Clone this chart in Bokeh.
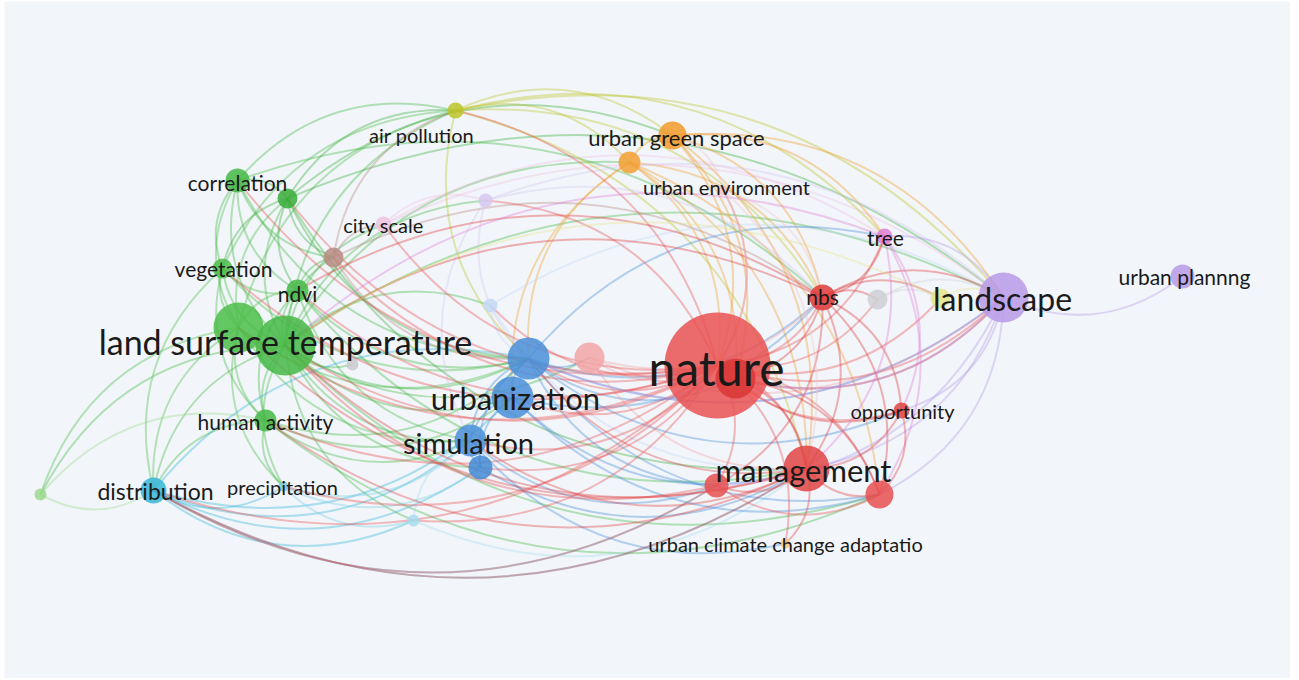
import numpy as np
from bokeh.plotting import figure
from bokeh.models import ColumnDataSource, Range1d
from bokeh.core.properties import value
from bokeh.embed import file_html
from bokeh.resources import INLINE

# ---- nodes (map coordinates as laid out in the network map) ----
node_id = ["lst", "lst2", "correlation", "g_small", "vegetation", "ndvi", "human_activity",
           "g_left", "brown", "city_scale", "gray1", "distribution", "precipitation", "cyan_small",
           "air_pollution", "urban_green_space", "urban_environment_o", "lavender", "light_blue",
           "urbanization", "urbanization2", "simulation", "simulation2", "salmon", "nature",
           "nature2", "nbs", "gray2", "yellow_pale", "landscape", "urban_plannng", "tree",
           "opportunity", "management", "red_small", "red_right", "ucca", "urban_environment"]
node_x = [285, 238, 237, 287, 222, 297, 265, 40, 333, 383, 352, 153, 283, 413,
          455, 672, 629, 485, 490, 528, 512, 470, 480, 589, 717,
          735, 822, 877, 940, 1003, 1182, 884, 901, 806, 716, 879, 785, 723]
node_y = [345, 327, 180, 198, 268, 290, 420, 494, 257, 224, 364, 490, 486, 520,
          110, 135, 162, 200, 305, 358, 397, 440, 467, 357, 365,
          378, 297, 299, 298, 297, 276, 236, 410, 468, 485, 494, 543, 190]
node_weight = [30, 25, 12, 10, 10, 11, 11, 6, 10, 8, 6, 13, 5, 6,
               8, 14, 11, 7, 7, 21, 21, 16, 12, 15, 53,
               20, 13, 10, 10, 25, 12, 8, 8, 23, 12, 14, 5, 5]
node_color = ["#45b845", "#4cbd49", "#45b845", "#3aad3a", "#4cbd49", "#45b845", "#45b845",
              "#9bd88c", "#b98b82", "#efc3e0", "#c9c9cf", "#38b6d8", "#7fd0e6", "#a8dcec",
              "#bcc42a", "#f39a2a", "#f3a033", "#d6c8f0", "#c4d8f4",
              "#4a8fd8", "#4a8fd8", "#4a8fd8", "#4389d2", "#f2a6a6", "#ea5252",
              "#d93636", "#e03a3a", "#cfcfd4", "#e4e48a", "#b89ae8", "#b89ae8", "#e07ed4",
              "#e04444", "#e04444", "#e85050", "#e85050", "#f5c87a", "#f0c4c4"]

# ---- labels ----
label_text = ["land surface temperature", "nature", "urbanization", "simulation", "management",
              "landscape", "distribution", "precipitation", "human activity", "correlation",
              "vegetation", "ndvi", "city scale", "air pollution", "urban green space",
              "urban environment", "tree", "nbs", "urban plannng", "opportunity",
              "urban climate change adaptatio"]
label_x = [285, 716, 515, 468, 803, 1002, 155, 282, 265, 237, 223, 297, 383, 421, 676,
           726, 885, 822, 1184, 902, 785]
label_y = [341, 367, 397, 442, 469, 298, 490, 486, 421, 182, 268, 293, 224, 134, 137,
           186, 237, 296, 276, 410, 543]
label_size = [34, 48, 31, 29, 31, 32, 23, 20, 21, 21, 21, 21, 20, 20, 22, 20, 21, 21, 21, 20, 20]

# ---- links ----
links = {
    "lst": ["lst2", "correlation", "g_small", "vegetation", "ndvi", "human_activity", "g_left",
            "brown", "city_scale", "gray1", "distribution", "precipitation", "cyan_small",
            "air_pollution", "urban_environment_o", "lavender", "light_blue", "urbanization",
            "urbanization2", "simulation", "simulation2", "salmon", "landscape", "red_right"],
    "lst2": ["correlation", "g_small", "vegetation", "ndvi", "human_activity", "g_left",
             "distribution", "precipitation", "air_pollution", "urbanization", "simulation"],
    "correlation": ["g_small", "vegetation", "ndvi", "brown", "air_pollution", "urbanization", "nbs"],
    "g_small": ["vegetation", "ndvi", "brown", "air_pollution", "urban_green_space",
                "urbanization", "landscape", "management"],
    "vegetation": ["ndvi", "human_activity", "distribution", "air_pollution", "urbanization"],
    "ndvi": ["human_activity", "brown", "urbanization", "simulation", "management"],
    "human_activity": ["distribution", "precipitation", "urbanization", "urbanization2",
                       "simulation", "red_right"],
    "g_left": ["distribution", "human_activity"],
    "brown": ["city_scale", "air_pollution", "urbanization", "nbs"],
    "city_scale": ["lavender", "landscape", "tree"],
    "distribution": ["precipitation", "cyan_small", "urbanization", "urbanization2",
                     "simulation", "simulation2", "management", "red_small"],
    "precipitation": ["cyan_small", "simulation", "simulation2"],
    "cyan_small": ["simulation", "management"],
    "air_pollution": ["urban_green_space", "urban_environment_o", "urbanization",
                      "nbs", "landscape", "management", "tree"],
    "urban_green_space": ["urban_environment_o", "nature", "nbs", "landscape", "management",
                          "tree", "nature2"],
    "urban_environment_o": ["nature", "nature2", "urbanization", "nbs", "management",
                            "urbanization2", "red_right"],
    "lavender": ["landscape", "nbs", "urbanization", "simulation"],
    "light_blue": ["urbanization", "management", "landscape"],
    "urbanization": ["urbanization2", "simulation", "simulation2", "salmon",
                     "nature2", "nbs", "landscape", "red_small", "red_right",
                     "opportunity", "tree"],
    "urbanization2": ["simulation", "simulation2", "management", "nbs", "red_right"],
    "simulation": ["simulation2", "red_small", "ucca"],
    "simulation2": ["management"],
    "salmon": ["nature", "nbs", "landscape", "management"],
    "nature": ["lst", "lst2", "correlation", "g_small", "vegetation", "ndvi", "human_activity",
               "brown", "city_scale", "distribution", "precipitation", "cyan_small",
               "air_pollution", "lavender", "light_blue", "urbanization", "urbanization2",
               "simulation", "simulation2",
               "nature2", "nbs", "gray2", "yellow_pale", "landscape", "tree", "opportunity",
               "management", "red_small", "red_right", "ucca", "urban_environment"],
    "management": ["lst", "lst2", "human_activity", "distribution", "urbanization",
                   "simulation", "red_small", "red_right", "ucca"],
    "nature2": ["nbs", "landscape", "opportunity", "management", "red_right"],
    "nbs": ["gray2", "yellow_pale", "landscape", "tree", "opportunity", "management",
            "red_right", "red_small", "lst", "ndvi"],
    "gray2": ["landscape", "yellow_pale"],
    "yellow_pale": ["landscape", "lst"],
    "landscape": ["urban_plannng", "tree", "opportunity", "management", "red_right", "red_small",
                  "nature2", "urbanization"],
    "tree": ["opportunity", "management", "red_right", "lst"],
    "opportunity": ["management", "red_right"],
    "red_small": ["red_right", "lst", "distribution"],
    "urban_environment": ["nature", "nbs", "management", "urban_green_space"],
}

# ---- build curved links ----
idx = {n: i for i, n in enumerate(node_id)}
cx0, cy0 = 640.0, 330.0
x0s, y0s, x1s, y1s, cxs, cys, lcol = [], [], [], [], [], [], []
for s, targets in links.items():
    for t in targets:
        a, b = idx[s], idx[t]
        xa, ya, xb, yb = node_x[a], node_y[a], node_x[b], node_y[b]
        mx, my = (xa + xb) / 2, (ya + yb) / 2
        dx, dy = xb - xa, yb - ya
        L = (dx * dx + dy * dy) ** 0.5
        px, py = -dy / L, dx / L
        if (mx - cx0) * px + (my - cy0) * py < 0:
            px, py = -px, -py
        k = 0.3 * L
        x0s.append(xa); y0s.append(ya); x1s.append(xb); y1s.append(yb)
        cxs.append(mx + px * k); cys.append(my + py * k)
        lcol.append(node_color[a])

edge_src = ColumnDataSource(dict(x0=x0s, y0=y0s, x1=x1s, y1=y1s, cx=cxs, cy=cys, c=lcol))
node_src = ColumnDataSource(dict(x=node_x, y=node_y, s=[2 * w for w in node_weight], c=node_color))
lab_src = ColumnDataSource(dict(x=label_x, y=label_y, t=label_text,
                                fs=[f"{v}px" for v in label_size]))

p = figure(width=1290, height=678, output_backend="svg", toolbar_location=None,
           x_range=Range1d(4, 1290), y_range=Range1d(678, 1),
           min_border_left=4, min_border_top=1, min_border_right=0, min_border_bottom=0)
p.axis.visible = False
p.grid.visible = False
p.outline_line_color = None
p.background_fill_color = "#f2f6fb"
p.border_fill_color = "#ffffff"

p.quadratic(x0="x0", y0="y0", x1="x1", y1="y1", cx="cx", cy="cy", source=edge_src,
            line_color="c", line_alpha=0.38, line_width=2)
p.scatter(x="x", y="y", size="s", source=node_src, marker="circle",
          fill_color="c", fill_alpha=0.85, line_color=None)
p.text(x="x", y="y", text="t", source=lab_src, text_font_size="fs",
       text_font=value("Lato"), text_align="center",
       text_baseline="middle", text_color="#1a1a1a")

open("out.html", "w").write(file_html(p, INLINE))
